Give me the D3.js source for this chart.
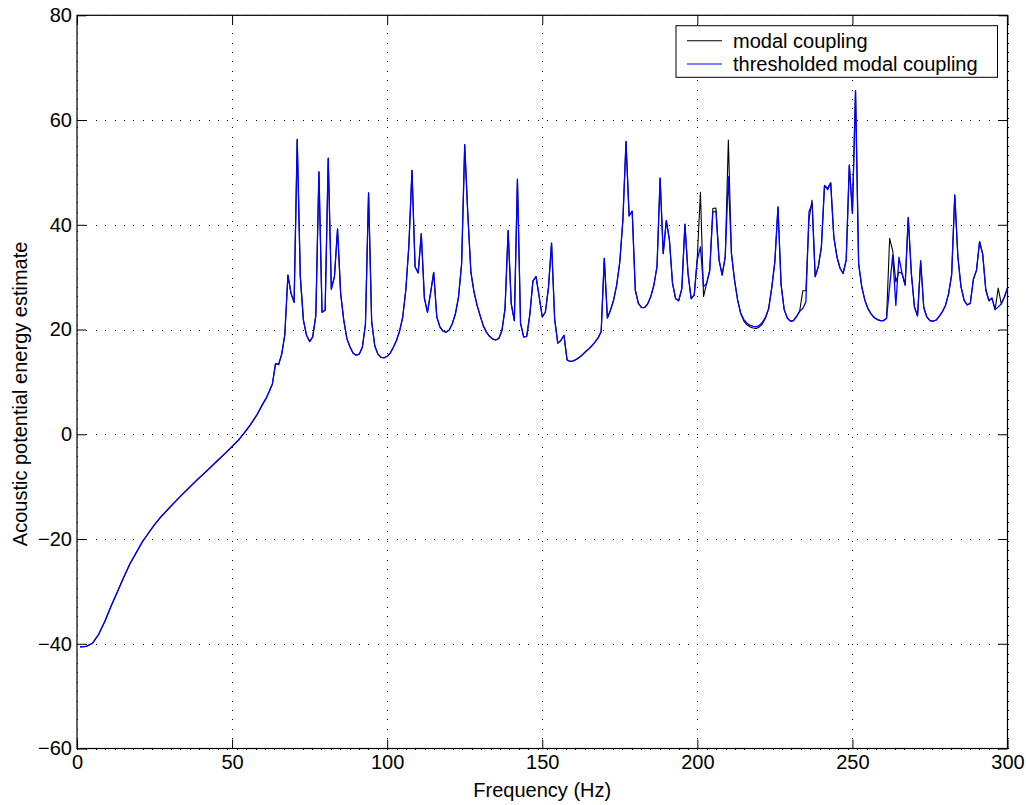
<!DOCTYPE html>
<html>
<head>
<meta charset="utf-8">
<script src="https://cdn.jsdelivr.net/npm/d3@7"></script>
<style>
  html, body { margin: 0; padding: 0; background: #fff; }
  svg { display: block; }
  text { font-family: "Liberation Sans", Arial, Helvetica, sans-serif; fill: #000; }
</style>
</head>
<body>
<svg id="chart" width="1026" height="805"></svg>
<script>
// Low-frequency part of the spectrum (smooth rise), sampled coarsely
const lowFreq  = [1, 3, 5, 7, 9, 11, 13, 15, 17, 19, 21, 23, 25, 27, 30, 33, 36, 39, 42, 45, 48, 50, 52, 54, 56, 58, 60];
const lowLevel = [-40.6, -40.5, -39.9, -38.2, -35.7, -32.8, -30.1, -27.4, -24.8, -22.7, -20.6, -18.9, -17.25, -15.8,
                  -13.9, -12.05, -10.3, -8.55, -6.9, -5.2, -3.5, -2.35, -1.15, 0.3, 1.9, 3.7, 5.9];

// Resonant part, one sample per Hz from 61 Hz to 300 Hz
const bandStart = 61, bandEnd = 300;

const modalCoupling = [
  6.9, 8.2, 9.6, 13.5, 13.3, 15.3, 19.0, 30.4, 26.9, 25.2,      // 61-70
  56.3, 30.1, 21.8, 18.9, 17.7, 18.6, 22.7, 50.1, 23.3, 23.7,   // 71-80
  52.7, 27.7, 30.1, 39.2, 26.9, 21.8, 18.3, 16.7, 15.5, 15.1,   // 81-90
  15.3, 16.6, 21.0, 46.1, 21.5, 16.9, 15.3, 14.7, 14.6, 14.9,   // 91-100
  15.5, 16.6, 17.9, 19.7, 22.3, 27.5, 36.0, 50.4, 32.0, 30.8,   // 101-110
  38.3, 26.0, 23.3, 27.0, 30.9, 22.4, 20.5, 19.7, 19.5, 19.9,   // 111-120
  21.1, 23.0, 26.2, 32.5, 55.3, 42.0, 30.9, 27.2, 24.6, 22.6,   // 121-130
  20.7, 19.5, 18.7, 18.2, 18.0, 18.3, 19.8, 24.0, 38.9, 24.9,   // 131-140
  21.7, 48.7, 21.2, 18.6, 18.7, 22.9, 29.3, 30.1, 26.3, 22.4,   // 141-150
  23.3, 28.0, 36.5, 22.0, 17.4, 17.9, 18.9, 14.2, 13.9, 14.0,   // 151-160
  14.3, 14.7, 15.2, 15.8, 16.3, 16.9, 17.6, 18.4, 19.6, 33.6,   // 161-170
  22.2, 23.7, 25.6, 28.5, 32.9, 40.9, 55.9, 41.7, 42.6, 27.5,   // 171-180
  25.0, 24.2, 24.2, 24.9, 26.3, 28.5, 32.0, 48.9, 34.5, 40.8,   // 181-190
  37.1, 28.8, 25.9, 25.5, 27.8, 40.1, 30.7, 25.9, 26.6, 33.9,   // 191-200
  46.2, 26.3, 28.8, 31.3, 43.1, 43.2, 33.3, 30.4, 33.9, 56.2,   // 201-210
  34.5, 29.4, 25.6, 23.0, 21.6, 20.9, 20.5, 20.3, 20.2, 20.5,   // 211-220
  21.1, 22.2, 24.0, 28.0, 33.0, 43.4, 28.6, 23.8, 22.2, 21.6,   // 221-230
  21.7, 22.5, 23.5, 27.4, 27.4, 41.0, 44.7, 30.1, 32.0, 35.8,   // 231-240
  47.5, 47.0, 48.0, 37.7, 33.9, 31.7, 30.7, 33.3, 51.4, 42.2,   // 241-250
  65.6, 32.6, 28.2, 25.6, 24.0, 23.0, 22.3, 21.9, 21.7, 21.7,   // 251-260
  22.1, 37.4, 35.0, 29.1, 31.0, 30.7, 28.5, 41.4, 30.7, 24.3,   // 261-270
  22.6, 33.1, 24.2, 22.4, 21.7, 21.6, 21.8, 22.5, 23.4, 24.6,   // 271-280
  26.8, 30.5, 45.7, 33.9, 28.2, 25.6, 24.7, 25.0, 29.6, 31.3,   // 281-290
  36.8, 34.4, 27.6, 25.5, 26.0, 23.8, 27.9, 24.9, 26.2, 27.9    // 291-300
];

const thresholdedCoupling = [
  6.9, 8.2, 9.6, 13.5, 13.3, 15.3, 19.0, 30.4, 26.9, 25.2,      // 61-70
  56.3, 30.1, 21.8, 18.9, 17.7, 18.6, 22.7, 50.1, 23.3, 23.7,   // 71-80
  52.7, 27.7, 30.1, 39.2, 26.9, 21.8, 18.3, 16.7, 15.5, 15.1,   // 81-90
  15.3, 16.6, 21.0, 46.1, 21.5, 16.9, 15.3, 14.7, 14.6, 14.9,   // 91-100
  15.5, 16.6, 17.9, 19.7, 22.3, 27.5, 36.0, 50.4, 32.0, 30.8,   // 101-110
  38.3, 26.0, 23.3, 27.0, 30.9, 22.4, 20.5, 19.7, 19.5, 19.9,   // 111-120
  21.1, 23.0, 26.2, 32.5, 55.3, 42.0, 30.9, 27.2, 24.6, 22.6,   // 121-130
  20.7, 19.5, 18.7, 18.2, 18.0, 18.3, 19.8, 24.0, 38.9, 24.9,   // 131-140
  21.7, 48.7, 21.2, 18.6, 18.7, 22.9, 29.3, 30.1, 26.3, 22.4,   // 141-150
  23.3, 28.0, 36.5, 22.0, 17.4, 17.9, 18.9, 14.2, 13.9, 14.0,   // 151-160
  14.3, 14.7, 15.2, 15.8, 16.3, 16.9, 17.6, 18.4, 19.6, 33.6,   // 161-170
  22.2, 23.7, 25.6, 28.5, 32.9, 40.9, 55.9, 41.7, 42.6, 27.5,   // 171-180
  25.0, 24.2, 24.2, 24.9, 26.3, 28.5, 32.0, 48.9, 34.5, 40.8,   // 181-190
  37.1, 28.8, 25.9, 25.5, 27.8, 40.1, 30.7, 25.9, 26.6, 33.3,   // 191-200
  35.8, 28.2, 28.8, 31.3, 42.4, 42.6, 33.3, 30.4, 33.9, 49.2,   // 201-210
  34.5, 29.4, 25.6, 23.1, 21.9, 21.2, 20.8, 20.6, 20.5, 20.8,   // 211-220
  21.4, 22.4, 24.0, 28.0, 33.0, 43.4, 28.6, 23.8, 22.2, 21.6,   // 221-230
  21.7, 22.5, 23.5, 24.0, 25.3, 42.5, 44.0, 30.1, 32.0, 35.8,   // 231-240
  47.5, 46.7, 48.0, 37.7, 33.9, 31.7, 30.7, 33.3, 51.4, 42.2,   // 241-250
  65.6, 32.6, 28.2, 25.6, 24.0, 23.0, 22.3, 21.9, 21.7, 21.7,   // 251-260
  22.1, 28.2, 34.2, 24.6, 33.8, 30.7, 28.5, 41.4, 30.7, 24.3,   // 261-270
  22.6, 33.1, 24.2, 22.4, 21.7, 21.6, 21.8, 22.5, 23.4, 24.6,   // 271-280
  26.8, 30.5, 45.7, 33.9, 28.2, 25.6, 24.7, 25.0, 29.6, 31.3,   // 281-290
  36.8, 34.4, 27.6, 25.5, 26.0, 23.8, 24.3, 24.9, 26.2, 27.9    // 291-300
];

const xTicks = [0, 50, 100, 150, 200, 250, 300];
const yTicks = [-60, -40, -20, 0, 20, 40, 60, 80];
const seriesNames = ["modal coupling", "thresholded modal coupling"];
const seriesColors = ["#000000", "#0000ff"];

// ---- layout ----
const svg = d3.select("#chart");
const plot = { left: 77, right: 1007.5, top: 15.3, bottom: 748.5 };
const W = plot.right - plot.left, H = plot.bottom - plot.top;

const x = d3.scaleLinear().domain([0, 300]).range([plot.left, plot.right]);
const y = d3.scaleLinear().domain([-60, 80]).range([plot.bottom, plot.top]);

const bandFreq = d3.range(bandStart, bandEnd + 1);
function buildSeries(values) {
  const pts = lowFreq.map((f, i) => [f, lowLevel[i]]);
  bandFreq.forEach((f, i) => pts.push([f, values[i]]));
  return pts;
}
const series = [buildSeries(modalCoupling), buildSeries(thresholdedCoupling)];

// ---- grid (dotted) ----
const grid = svg.append("g").attr("class", "grid");
grid.append("g")
  .attr("transform", `translate(0,${plot.bottom})`)
  .call(d3.axisBottom(x).tickValues(xTicks).tickSize(-H).tickFormat(""))
  .call(g => g.select(".domain").remove());
grid.append("g")
  .attr("transform", `translate(${plot.left},0)`)
  .call(d3.axisLeft(y).tickValues(yTicks).tickSize(-W).tickFormat(""))
  .call(g => g.select(".domain").remove());
grid.selectAll("line")
  .attr("stroke", "#000")
  .attr("stroke-width", 1)
  .attr("stroke-dasharray", "1,8.4")
  .attr("shape-rendering", "crispEdges");

// ---- curves ----
const line = d3.line().x(d => x(d[0])).y(d => y(d[1]));
svg.append("g").selectAll("path")
  .data(series)
  .join("path")
  .attr("d", line)
  .attr("fill", "none")
  .attr("stroke", (d, i) => seriesColors[i])
  .attr("stroke-width", (d, i) => i === 0 ? 1.1 : 1.3)
  .attr("stroke-linejoin", "round");

// ---- axes with inward ticks on all four sides ----
const tickLen = 9;
const fmt = d => (d < 0 ? "\u2212" + Math.abs(d) : String(d));
const axisFont = 20;

const bottomAxis = svg.append("g")
  .attr("transform", `translate(0,${plot.bottom})`)
  .call(d3.axisBottom(x).tickValues(xTicks).tickSize(-tickLen).tickSizeOuter(0).tickPadding(6).tickFormat(fmt));
const leftAxis = svg.append("g")
  .attr("transform", `translate(${plot.left},0)`)
  .call(d3.axisLeft(y).tickValues(yTicks).tickSize(-tickLen).tickSizeOuter(0).tickPadding(5).tickFormat(fmt));
const topAxis = svg.append("g")
  .attr("transform", `translate(0,${plot.top})`)
  .call(d3.axisTop(x).tickValues(xTicks).tickSize(-tickLen).tickSizeOuter(0).tickFormat(""));
const rightAxis = svg.append("g")
  .attr("transform", `translate(${plot.right},0)`)
  .call(d3.axisRight(y).tickValues(yTicks).tickSize(-tickLen).tickSizeOuter(0).tickFormat(""));

[bottomAxis, leftAxis, topAxis, rightAxis].forEach(g => {
  g.select(".domain").remove();
  g.selectAll("line").attr("stroke", "#000").attr("stroke-width", 1);
  g.selectAll("text").attr("font-size", axisFont).attr("fill", "#000")
    .style("font-family", '"Liberation Sans", Arial, sans-serif');
});

// frame
svg.append("rect")
  .attr("x", plot.left).attr("y", plot.top)
  .attr("width", W).attr("height", H)
  .attr("fill", "none").attr("stroke", "#000").attr("stroke-width", 1.2);

// ---- axis titles ----
svg.append("text")
  .attr("x", (plot.left + plot.right) / 2)
  .attr("y", 797)
  .attr("text-anchor", "middle")
  .attr("font-size", axisFont)
  .text("Frequency (Hz)");

svg.append("text")
  .attr("transform", `translate(27,${(plot.top + plot.bottom) / 2 + 12}) rotate(-90)`)
  .attr("text-anchor", "middle")
  .attr("font-size", axisFont)
  .text("Acoustic potential energy estimate");

// ---- legend ----
const legend = svg.append("g");
const lg = { x: 676, y: 25.7, w: 321.5, h: 51.6 };
legend.append("rect")
  .attr("x", lg.x).attr("y", lg.y).attr("width", lg.w).attr("height", lg.h)
  .attr("fill", "#fff").attr("stroke", "#000").attr("stroke-width", 1);
seriesNames.forEach((name, i) => {
  const cy = lg.y + 15 + i * 23.3;
  legend.append("line")
    .attr("x1", lg.x + 11).attr("x2", lg.x + 46)
    .attr("y1", cy).attr("y2", cy)
    .attr("stroke", seriesColors[i]).attr("stroke-width", 1.1);
  legend.append("text")
    .attr("x", lg.x + 57).attr("y", cy + 7)
    .attr("font-size", axisFont)
    .text(name);
});
</script>
</body>
</html>
